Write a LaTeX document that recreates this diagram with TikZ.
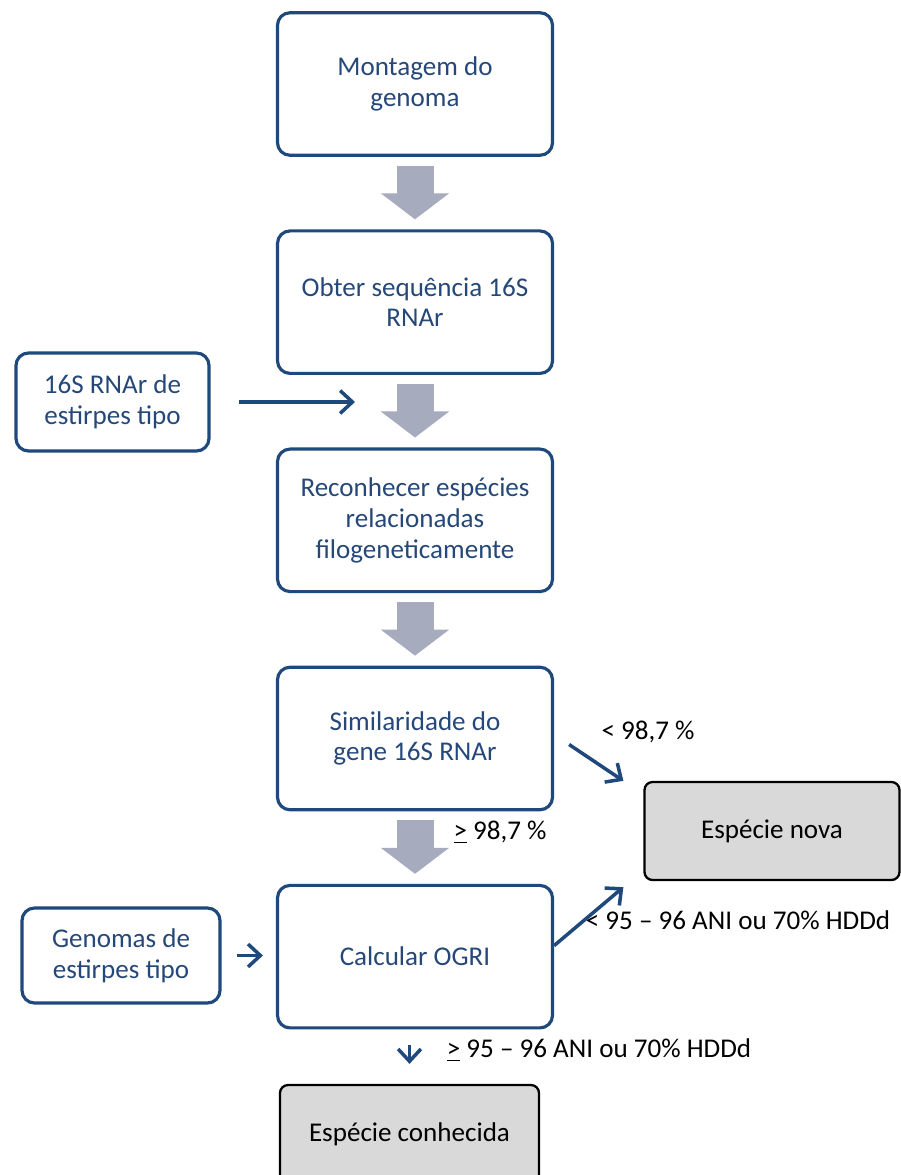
\documentclass[tikz,border=0pt]{standalone}
\usepackage{fontspec}
\setmainfont{Carlito}
\usetikzlibrary{arrows.meta, positioning}

\definecolor{boxblue}{RGB}{31,73,125}
\definecolor{textblue}{RGB}{38,72,120}
\definecolor{flowgray}{RGB}{166,171,189}
\definecolor{endgray}{RGB}{217,217,217}

\begin{document}
\begin{tikzpicture}[
		node distance=1.45cm and 1.2cm,
		every node/.style={font=\fontsize{15.4pt}{17.5pt}\selectfont},
		block/.style={
			rectangle,
			draw=boxblue,
			line width=1.8pt,
			rounded corners=0.25cm,
			align=center,
			text=textblue,
			minimum width=5.5cm,
			minimum height=2.85cm
		},
		source/.style={
			block,
			minimum width=3.86cm,
			minimum height=1.96cm
		},
		result/.style={
			rectangle,
			draw=black,
			line width=1.3pt,
			rounded corners=0.16cm,
			fill=endgray,
			align=center,
			minimum width=5.1cm,
			minimum height=1.96cm
		},
		flow/.style={
			draw=flowgray,
			line width=0.74cm,
			-{Triangle[width=1.34cm, length=0.52cm]},
			shorten <=0.18cm,
			shorten >=0.2cm
		},
		arrow/.style={
			draw=boxblue,
			line width=2pt,
			-{Straight Barb[length=7pt, width=13pt]}
		}
		]
		\useasboundingbox (0,0) rectangle (18,-23.5);
		
		% Nodes
		\node[block] (montagem) at (8.3,-1.68) {Montagem do\\genoma};
		
		\node[block, below=of montagem] (obter) {Obter sequência 16S\\RNAr};
		
		\node[block, below=of obter] (reconhecer) {Reconhecer espécies\\relacionadas\\filogeneticamente};
		
		\node[block, below=of reconhecer] (similaridade) {Similaridade do\\gene 16S RNAr};
		
		\node[block, below=of similaridade] (ogri) {Calcular OGRI};
		
		\node[source] (tipo16s) at (2.25,-8.04) {16S RNAr de\\estirpes tipo};
		
		\node[source, minimum width=3.96cm, minimum height=1.9cm] (genomas) at (2.42,-19.11) {Genomas de\\estirpes tipo};
		
		\node[result] (nova) at (15.44,-16.62) {Espécie nova};
		
		\node[result, minimum width=5.18cm] (conhecida) at (8.19,-22.68) {Espécie conhecida};
		
		% Labels
		\node (menor987) at (12.96,-14.64) {< 98,7 \%};
		\node (maior987) at (10.0,-16.64) {\underline{>} 98,7 \%};
		\node (menorani) at (14.76,-18.4) {< 95 – 96 ANI ou 70\% HDDd};
		\node (maiorani) at (11.98,-21.0) {\underline{>} 95 – 96 ANI ou 70\% HDDd};
		
		% Arrows (main flow)
		\draw[flow] (montagem) -- (obter);
		\draw[flow] (obter) -- (reconhecer);
		\draw[flow] (reconhecer) -- (similaridade);
		\draw[flow] (similaridade) -- (ogri);
		
		% Inputs
		\draw[arrow, shorten <=0.56cm, shorten >=1.2cm] (tipo16s.east) -- (tipo16s.east -| obter.south);
		\draw[arrow, shorten <=0.3cm, shorten >=0.26cm] (genomas.east) -- (genomas.east -| ogri.west);
		
		% Outcomes
		\draw[arrow] ([shift={(0.3,-0.12)}]similaridade.east) -- ([xshift=-0.4cm]nova.north west);
		\draw[arrow] ([yshift=0.22cm]ogri.east) -- ([shift={(-0.4,-0.12)}]nova.south west);
		\draw[arrow, shorten <=0.32cm, shorten >=0.4cm] (conhecida.north |- ogri.south) -- (conhecida.north);
		
	\end{tikzpicture}
\end{document}
